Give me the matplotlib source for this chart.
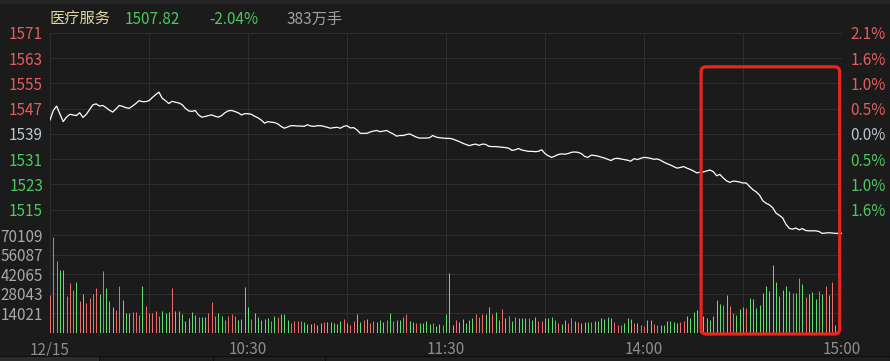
import matplotlib
matplotlib.use('Agg')
import matplotlib.pyplot as plt
from matplotlib.patches import FancyBboxPatch, Rectangle
from matplotlib.transforms import IdentityTransform

plt.rcParams['font.family'] = ['Noto Sans CJK SC', 'DejaVu Sans']

# 医疗服务 分时数据 (每分钟)
prev_close = 1539.18
price_span = 31.9

price = [
    1543.6, 1546.6, 1548.0, 1545.5, 1543.1, 1544.5, 1545.4, 1545.2, 1545.0, 1545.9,
    1544.4, 1545.4, 1546.9, 1548.4, 1548.7, 1548.0, 1548.2, 1547.5, 1546.7, 1546.1,
    1547.1, 1548.2, 1547.9, 1547.5, 1547.3, 1548.0, 1548.8, 1549.7, 1549.4, 1549.4,
    1549.7, 1550.7, 1551.6, 1552.4, 1550.5, 1549.7, 1548.8, 1549.5, 1549.2, 1549.0,
    1548.5, 1547.3, 1546.5, 1546.3, 1546.6, 1545.2, 1544.5, 1544.7, 1545.0, 1545.2,
    1544.8, 1544.5, 1545.0, 1545.9, 1546.5, 1546.6, 1546.3, 1545.9, 1545.2, 1545.6,
    1545.6, 1545.4, 1544.8, 1544.3, 1543.6, 1542.6, 1543.1, 1542.9, 1542.8, 1542.4,
    1541.6, 1541.0, 1541.4, 1541.8, 1541.8, 1541.7, 1541.7, 1541.6, 1542.1, 1541.7,
    1541.6, 1541.8, 1541.8, 1541.6, 1541.3, 1541.0, 1541.2, 1541.3, 1541.0, 1541.6,
    1541.8, 1541.1, 1541.2, 1540.5, 1539.4, 1539.4, 1539.4, 1539.8, 1540.1, 1540.3,
    1539.9, 1540.1, 1540.3, 1539.7, 1539.2, 1538.5, 1538.7, 1538.7, 1539.0, 1539.2,
    1538.7, 1538.2, 1537.9, 1537.9, 1537.9, 1538.0, 1538.7, 1538.2, 1538.0, 1537.9,
    1537.8, 1537.8, 1537.6, 1537.2, 1536.8, 1536.3, 1535.9, 1535.5, 1535.8, 1536.0,
    1535.6, 1536.0, 1535.9, 1535.3, 1535.2, 1535.2, 1535.1, 1535.0, 1534.9, 1534.7,
    1534.0, 1534.2, 1534.6, 1534.1, 1533.9, 1533.7, 1533.7, 1533.6, 1533.7, 1534.2,
    1533.0, 1532.3, 1531.8, 1532.2, 1532.7, 1532.9, 1532.8, 1533.0, 1533.4, 1533.5,
    1533.4, 1533.0, 1532.1, 1531.8, 1532.5, 1532.4, 1532.2, 1531.9, 1531.6, 1531.2,
    1530.8, 1531.4, 1531.5, 1531.3, 1531.1, 1530.9, 1530.6, 1531.4, 1531.1, 1531.5,
    1531.8, 1531.7, 1531.5, 1531.2, 1531.3, 1530.9, 1530.3, 1529.8, 1529.4, 1528.9,
    1528.4, 1528.6, 1528.9, 1528.4, 1528.0, 1527.5, 1526.9, 1527.1, 1527.2, 1527.5,
    1527.8, 1527.3, 1526.0, 1526.4, 1525.3, 1524.4, 1523.9, 1524.3, 1524.2, 1524.0,
    1523.7, 1523.7, 1522.6, 1521.6, 1520.9, 1519.9, 1518.1, 1517.3, 1516.8, 1515.9,
    1514.2, 1513.5, 1512.7, 1510.7, 1509.4, 1509.1, 1509.5, 1508.9, 1509.3, 1508.7,
    1508.6, 1508.6, 1508.6, 1508.4, 1507.8, 1507.9, 1508.0, 1507.9, 1507.8, 1507.8,
    1507.82,
]

volume = [
    27300, 68500, 51400, 45000, 45000, 26400, 36000, 31000, 36700, 22700,
    28000, 21500, 25000, 27600, 32000, 28000, 44400, 32500, 22700, 18500,
    16400, 33400, 23800, 14000, 14000, 14700, 14700, 13000, 33400, 19000,
    14000, 14000, 15700, 12000, 16000, 14300, 14700, 32000, 16000, 16000,
    13500, 8600, 11000, 14700, 12900, 11700, 11700, 11700, 14000, 22000,
    12400, 14000, 12000, 9300, 12400, 13500, 12400, 9300, 10000, 33000,
    18700, 10000, 14000, 11700, 9300, 10000, 10500, 8600, 12000, 11200,
    13300, 13500, 9100, 6800, 8600, 8600, 8600, 7700, 6300, 6300,
    7000, 5400, 6800, 7700, 7700, 8200, 7500, 6300, 8400, 10000,
    6800, 5400, 8600, 13800, 7700, 9600, 10000, 6800, 8600, 7700,
    9100, 7700, 9300, 14300, 8600, 9300, 9300, 11700, 13300, 8600,
    8200, 7000, 7200, 7200, 8600, 6300, 7200, 4700, 6300, 5800,
    13300, 42800, 5800, 9300, 8200, 9800, 7500, 9300, 11000, 13500,
    11200, 13500, 13500, 18700, 13500, 15200, 9300, 17000, 10500, 12000,
    8600, 11500, 10500, 11000, 11000, 11000, 9300, 11500, 8600, 8600,
    11000, 11000, 11500, 9300, 7500, 6300, 9300, 7500, 11000, 8600,
    7700, 6800, 7700, 8200, 8200, 8600, 8600, 11000, 9800, 11500,
    11000, 8200, 5400, 5400, 7500, 11000, 10000, 7500, 7500, 5800,
    4900, 9300, 9300, 6500, 5400, 5800, 5400, 8600, 8600, 8200,
    7500, 7700, 8600, 12400, 10500, 14700, 16400, 15000, 12400, 10500,
    9300, 12000, 23400, 21000, 19900, 26900, 19400, 14000, 12900, 17000,
    18700, 18000, 25000, 24500, 18000, 19900, 28700, 33900, 29700, 49000,
    36200, 26400, 31000, 33900, 29700, 28700, 28700, 39000, 35000, 25500,
    28000, 29200, 24000, 30400, 28000, 33900, 27300, 36700, 5400,
]

# r = 上涨 (红), g = 下跌 (绿)
vol_dir = (
    'rrrggrrrgr' 'grrrrgrggg' 'rrgggrrrgr' 'rrrrgggrgg' 'gggggrggrr'
    'rggrrrrggg' 'grgggggrgr' 'gggrrrrggg' 'rggrgggggr' 'grrggrgrrg'
    'ggrgrggrrg' 'grggggrggr' 'gggrgggggr' 'rrggrggrgr' 'grgggrggrr'
    'gggrrggrrg' 'rgggrggggg' 'grrrgggrgr' 'rggrrggggg' 'grrggggggg'
    'ggggrgrrgg' 'grgggggggg' 'gggggrgrgr' 'gggrgrgrgg' 'ggggggggg'
    'g'
)

price_labels = ['1571', '1563', '1555', '1547', '1539', '1531', '1523', '1515']
pct_labels = ['2.1%', '1.6%', '1.0%', '0.5%', '0.0%', '0.5%', '1.0%', '1.6%']
vol_labels = ['70109', '56087', '42065', '28043', '14021']
vol_max = 70109
time_labels = ['12/15', '', '10:30', '', '11:30', '', '14:00', '', '15:00']

# 颜色
bg = '#1b1b1b'
grid_c = '#2d2d2d'
red = '#e35d5d'
green = '#4cc761'
bar_red = '#ec6c6c'
bar_green = '#62dc6e'
neutral = '#bcc6d0'
fs = 11

W, H = 890, 361
fig = plt.figure(figsize=(W / 100, H / 100), dpi=100, facecolor=bg)

ax_p = fig.add_axes([50 / W, 1 - 235 / H, 792 / W, 202 / H], facecolor=bg)
ax_v = fig.add_axes([50 / W, 1 - 333 / H, 792 / W, 98 / H], facecolor=bg)

n_min = 240
x_price = list(range(len(price)))
x_vol = list(range(len(volume)))

# 价格线
ax_p.plot(x_price, price, color='white', lw=0.9, zorder=3)
ax_p.set_xlim(0, n_min)
ax_p.set_ylim(prev_close - price_span, prev_close + price_span)
levels = [prev_close + price_span * k / 4 for k in range(4, -5, -1)]
ax_p.set_yticks(levels)
ax_p.set_yticklabels(price_labels + [''])
lab_cols = [red] * 4 + [neutral] + [green] * 3 + [green]
for lbl, c in zip(ax_p.get_yticklabels(), lab_cols):
    lbl.set_color(c)
ax_p.tick_params(axis='y', length=0, pad=5, labelsize=fs)
ax_p.set_xticks(range(0, n_min + 1, 30))
ax_p.tick_params(axis='x', length=0, labelbottom=False)
ax_p.grid(True, color=grid_c, lw=0.8)

ax_r = ax_p.twinx()
ax_r.set_ylim(ax_p.get_ylim())
ax_r.set_yticks(levels)
ax_r.set_yticklabels(pct_labels + [''])
for lbl, c in zip(ax_r.get_yticklabels(), lab_cols):
    lbl.set_color(c)
ax_r.tick_params(axis='y', length=0, pad=6, labelsize=fs)

# 成交量柱 (1 像素细线)
cols = [bar_red if d == 'r' else bar_green for d in vol_dir[:len(volume)]]
vl = ax_v.vlines(x_vol, 0, volume, colors=cols, linewidths=0.72, zorder=3)
vl.set_snap(True)
ax_v.set_xlim(0, n_min)
ax_v.set_ylim(0, vol_max)
ax_v.set_yticks([vol_max * k / 5 for k in range(5, 0, -1)])
ax_v.set_yticklabels(vol_labels)
ax_v.tick_params(axis='y', length=0, pad=5, labelsize=fs, labelcolor='#a8a8a8')
ax_v.set_xticks(range(0, n_min + 1, 30))
ax_v.set_xticklabels(time_labels)
ax_v.tick_params(axis='x', length=0, pad=6, labelsize=fs, labelcolor='#8c8c8c')
ax_v.grid(True, color=grid_c, lw=0.8)

for a in (ax_p, ax_r, ax_v):
    for s in a.spines.values():
        s.set_visible(False)

# 标题行
ty = 1 - 19 / H
fig.text(50 / W, ty, '医疗服务', color='#ddd6a2', fontsize=fs, va='center')
fig.text(125 / W, ty, '1507.82', color=green, fontsize=fs, va='center')
fig.text(209 / W, ty, '-2.04%', color=green, fontsize=fs, va='center')
fig.text(287 / W, ty, '383万手', color='#a0a0a0', fontsize=fs, va='center')

# 上下边框
fig.patches.append(Rectangle((0, 1 - 4 / H), 1, 4 / H, transform=fig.transFigure,
                             facecolor='#262626', edgecolor='none'))
fig.patches.append(Rectangle((0, 0), 1, 5 / H, transform=fig.transFigure,
                             facecolor='#1f1f1f', edgecolor='#0e0e0e', lw=0.8))
fig.patches.append(Rectangle((0, 0), 99 / W, 4.5 / H, transform=fig.transFigure,
                             facecolor='#2c2c2c', edgecolor='none'))
for sx in (99, 213, 325):
    fig.patches.append(Rectangle((sx / W, 0), 1 / W, 4.5 / H, transform=fig.transFigure,
                                 facecolor='#0e0e0e', edgecolor='none'))

# 红框 (尾盘)
fig.canvas.draw()
x0, y1 = ax_p.transData.transform((197.3, 1560.4))
x1, _ = ax_p.transData.transform((239.3, 1560.4))
_, y0 = ax_v.transData.transform((0, -700))
box = FancyBboxPatch((x0, y0), x1 - x0, y1 - y0,
                     boxstyle='round,pad=0,rounding_size=5',
                     transform=IdentityTransform(), fill=False,
                     edgecolor='#e8261e', lw=2.3, zorder=10)
fig.patches.append(box)

fig.savefig('out.png', dpi=100, facecolor=bg)
